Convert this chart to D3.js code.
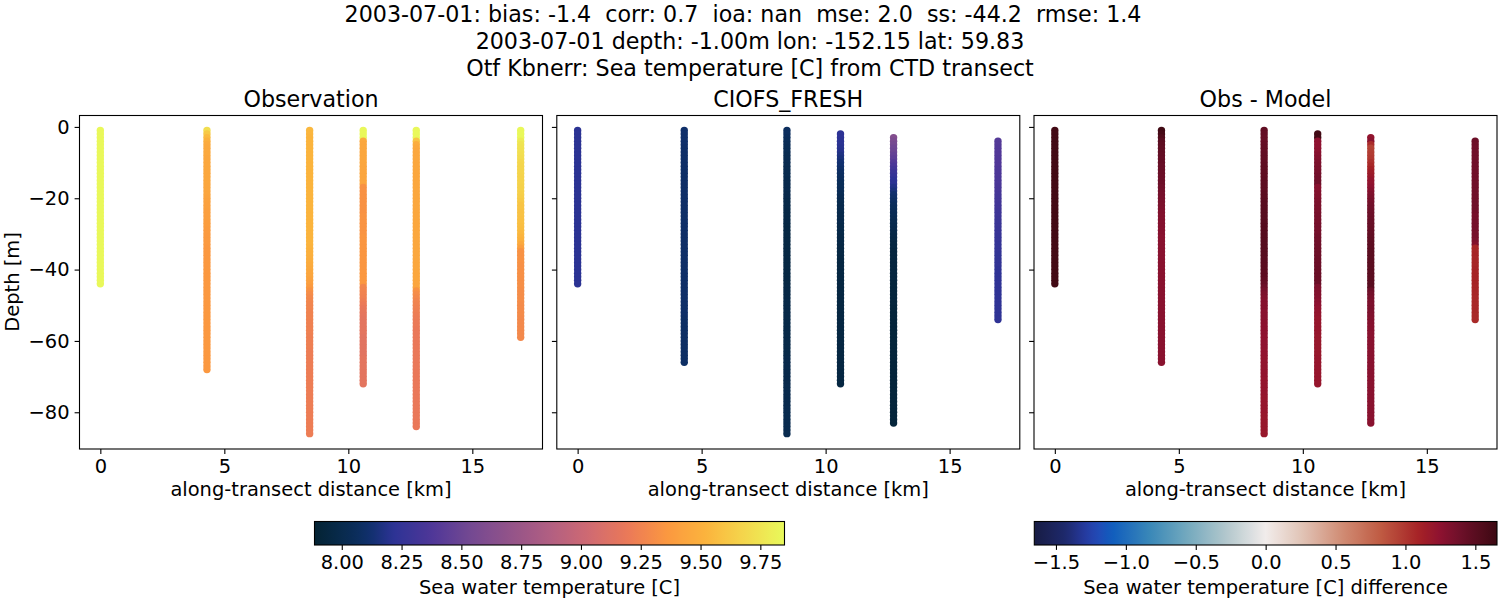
<!DOCTYPE html>
<html>
<head>
<meta charset="utf-8">
<script src="https://cdn.jsdelivr.net/npm/d3@7"></script>
<style>
body { margin:0; background:#fff; }
text { font-family:"DejaVu Sans"; fill:#000; }
</style>
</head>
<body>
<div id="chart"></div>
<script>
// distance of every cast along the transect [km]
let castDistance = [0, 4.3, 8.44, 10.6, 12.74, 16.95];
// first depth of every cast [m], then one value per metre going down
let obsStart = [1, 1, 1, 1, 1, 1];
let modelStart = [1, 1, 1, 2, 3, 4];

let obsTemp = [
 [9.84,9.84,9.84,9.84,9.84,9.84,9.84,9.84,9.84,9.84,
  9.84,9.84,9.84,9.84,9.84,9.84,9.84,9.84,9.84,9.84,
  9.84,9.84,9.84,9.84,9.84,9.84,9.84,9.84,9.84,9.84,
  9.84,9.84,9.84,9.84,9.84,9.84,9.84,9.84,9.84,9.84,
  9.84,9.84,9.84,9.84],
 [9.72,9.62,9.55,9.50,9.47,9.46,9.46,9.46,9.45,9.45,
  9.45,9.45,9.45,9.45,9.45,9.45,9.44,9.44,9.44,9.43,
  9.42,9.41,9.41,9.40,9.40,9.40,9.39,9.39,9.38,9.38,
  9.37,9.37,9.37,9.36,9.36,9.36,9.36,9.36,9.36,9.36,
  9.36,9.36,9.36,9.36,9.36,9.36,9.36,9.36,9.36,9.36,
  9.36,9.36,9.36,9.36,9.36,9.36,9.36,9.36,9.36,9.36,
  9.36,9.36,9.36,9.36,9.36,9.36,9.36,9.36],
 [9.54,9.53,9.52,9.52,9.52,9.52,9.52,9.52,9.52,9.52,
  9.52,9.52,9.52,9.52,9.52,9.52,9.52,9.52,9.52,9.52,
  9.52,9.52,9.52,9.52,9.52,9.52,9.52,9.52,9.52,9.52,
  9.52,9.52,9.52,9.51,9.50,9.50,9.49,9.48,9.47,9.46,
  9.45,9.44,9.42,9.40,9.37,9.33,9.30,9.28,9.27,9.26,
  9.26,9.25,9.25,9.25,9.24,9.24,9.24,9.24,9.23,9.23,
  9.23,9.23,9.22,9.22,9.22,9.22,9.22,9.22,9.22,9.22,
  9.22,9.22,9.22,9.22,9.22,9.22,9.22,9.22,9.22,9.22,
  9.22,9.22,9.22,9.22,9.22,9.22],
 [9.84,9.84,9.84,9.46,9.45,9.45,9.45,9.45,9.45,9.45,
  9.44,9.44,9.44,9.44,9.44,9.44,9.33,9.33,9.33,9.33,
  9.33,9.33,9.33,9.33,9.34,9.34,9.34,9.34,9.34,9.34,
  9.35,9.35,9.35,9.35,9.35,9.35,9.35,9.35,9.35,9.35,
  9.36,9.36,9.36,9.36,9.27,9.26,9.25,9.24,9.22,9.20,
  9.18,9.17,9.16,9.15,9.15,9.15,9.15,9.15,9.14,9.14,
  9.14,9.14,9.14,9.14,9.15,9.15,9.15,9.15,9.15,9.15,
  9.15,9.15],
 [9.84,9.84,9.84,9.60,9.48,9.46,9.45,9.45,9.45,9.45,
  9.45,9.45,9.45,9.45,9.45,9.45,9.45,9.45,9.45,9.45,
  9.45,9.45,9.45,9.45,9.45,9.45,9.45,9.45,9.45,9.45,
  9.45,9.45,9.45,9.45,9.45,9.45,9.45,9.45,9.45,9.45,
  9.45,9.45,9.45,9.44,9.44,9.33,9.30,9.28,9.26,9.25,
  9.24,9.23,9.22,9.21,9.20,9.20,9.19,9.19,9.19,9.19,
  9.19,9.19,9.19,9.19,9.19,9.19,9.19,9.19,9.19,9.19,
  9.19,9.19,9.19,9.19,9.19,9.19,9.19,9.19,9.19,9.19,
  9.19,9.19,9.19,9.19],
 [9.84,9.84,9.84,9.78,9.75,9.74,9.73,9.72,9.71,9.69,
  9.68,9.68,9.68,9.67,9.67,9.67,9.66,9.66,9.65,9.64,
  9.62,9.60,9.60,9.59,9.59,9.58,9.58,9.57,9.56,9.54,
  9.52,9.50,9.46,9.40,9.33,9.33,9.33,9.33,9.32,9.32,
  9.32,9.32,9.31,9.31,9.31,9.30,9.30,9.30,9.30,9.29,
  9.29,9.29,9.29,9.28,9.28,9.28,9.28,9.28,9.28]
];

let modelTemp = [
 [8.21,8.21,8.21,8.21,8.21,8.21,8.21,8.21,8.21,8.21,
  8.21,8.21,8.21,8.21,8.21,8.21,8.21,8.21,8.21,8.21,
  8.21,8.21,8.21,8.21,8.21,8.21,8.21,8.21,8.21,8.21,
  8.21,8.21,8.21,8.21,8.21,8.21,8.21,8.21,8.21,8.21,
  8.21,8.21,8.21,8.21],
 [8.11,8.11,8.11,8.11,8.11,8.10,8.10,8.10,8.10,8.10,
  8.10,8.10,8.10,8.10,8.10,8.10,8.10,8.10,8.10,8.10,
  8.10,8.10,8.10,8.10,8.10,8.10,8.10,8.10,8.10,8.10,
  8.10,8.10,8.10,8.10,8.10,8.10,8.10,8.10,8.10,8.10,
  8.10,8.10,8.10,8.10,8.10,8.10,8.10,8.10,8.10,8.10,
  8.10,8.10,8.10,8.09,8.09,8.09,8.09,8.09,8.09,8.09,
  8.09,8.09,8.09,8.09,8.09,8.09],
 [8.07,8.07,8.06,8.05,8.04,8.03,8.03,8.02,8.02,8.02,
  8.01,8.01,8.01,8.01,8.00,8.00,8.00,8.00,7.99,7.99,
  7.98,7.98,7.98,7.97,7.97,7.97,7.97,7.96,7.96,7.96,
  7.96,7.96,7.96,7.96,7.96,7.96,7.96,7.96,7.96,7.96,
  7.96,7.96,7.96,7.96,7.97,7.97,7.97,7.97,7.98,7.98,
  7.98,7.98,7.98,7.98,7.98,7.98,7.98,7.98,7.98,7.98,
  7.98,7.98,7.98,7.98,7.99,7.99,7.99,7.99,7.99,7.99,
  7.99,7.99,8.00,8.00,8.00,8.00,8.00,8.00,8.01,8.01,
  8.01,8.01,8.01,8.01,8.01,8.01],
 [8.22,8.22,8.21,8.21,8.20,8.19,8.17,8.15,8.13,8.12,
  8.10,8.08,8.07,8.06,8.05,8.05,8.04,8.03,8.02,8.01,
  8.00,8.00,8.00,7.99,7.99,7.99,7.98,7.98,7.98,7.97,
  7.97,7.97,7.96,7.96,7.96,7.95,7.95,7.95,7.95,7.95,
  7.95,7.95,7.95,7.95,7.95,7.95,7.95,7.95,7.95,7.95,
  7.95,7.95,7.95,7.95,7.95,7.95,7.95,7.95,7.95,7.95,
  7.95,7.95,7.95,7.95,7.95,7.95,7.95,7.95,7.95,7.95,
  7.95],
 [8.62,8.58,8.55,8.52,8.50,8.47,8.44,8.40,8.36,8.32,
  8.28,8.25,8.22,8.21,8.18,8.15,8.12,8.10,8.08,8.06,
  8.05,8.04,8.03,8.02,8.01,8.00,7.99,7.98,7.97,7.96,
  7.95,7.95,7.94,7.94,7.94,7.94,7.94,7.94,7.94,7.94,
  7.94,7.93,7.93,7.93,7.93,7.93,7.93,7.93,7.92,7.92,
  7.92,7.92,7.92,7.92,7.92,7.92,7.92,7.92,7.92,7.92,
  7.92,7.92,7.92,7.92,7.92,7.92,7.92,7.92,7.92,7.92,
  7.92,7.92,7.92,7.92,7.92,7.92,7.92,7.92,7.92,7.92,
  7.92],
 [8.40,8.40,8.39,8.39,8.39,8.38,8.38,8.38,8.37,8.37,
  8.37,8.36,8.36,8.35,8.34,8.33,8.32,8.32,8.31,8.31,
  8.30,8.30,8.29,8.28,8.28,8.27,8.27,8.26,8.26,8.25,
  8.25,8.25,8.24,8.24,8.24,8.24,8.23,8.23,8.23,8.23,
  8.23,8.23,8.23,8.23,8.23,8.23,8.23,8.23,8.23,8.23,
  8.23]
];

let diffTemp = [
 [1.62,1.62,1.62,1.62,1.62,1.62,1.62,1.62,1.62,1.62,
  1.62,1.62,1.62,1.62,1.62,1.62,1.62,1.62,1.62,1.62,
  1.62,1.62,1.62,1.62,1.62,1.62,1.62,1.62,1.62,1.62,
  1.62,1.62,1.62,1.62,1.62,1.62,1.62,1.62,1.62,1.62,
  1.62,1.62,1.62,1.62],
 [1.63,1.60,1.55,1.50,1.48,1.47,1.46,1.45,1.44,1.44,
  1.42,1.42,1.41,1.40,1.40,1.40,1.38,1.37,1.36,1.35,
  1.34,1.33,1.32,1.31,1.30,1.30,1.29,1.29,1.28,1.28,
  1.27,1.27,1.27,1.27,1.27,1.27,1.27,1.27,1.27,1.27,
  1.27,1.27,1.27,1.27,1.27,1.27,1.27,1.27,1.27,1.27,
  1.27,1.27,1.27,1.27,1.27,1.27,1.27,1.27,1.27,1.27,
  1.27,1.27,1.27,1.27,1.27,1.27],
 [1.46,1.44,1.43,1.43,1.44,1.45,1.45,1.46,1.46,1.46,
  1.47,1.47,1.47,1.47,1.48,1.48,1.48,1.48,1.49,1.49,
  1.50,1.50,1.50,1.51,1.51,1.51,1.51,1.52,1.52,1.52,
  1.52,1.52,1.52,1.52,1.51,1.51,1.50,1.50,1.49,1.49,
  1.48,1.48,1.46,1.44,1.40,1.36,1.33,1.31,1.29,1.28,
  1.28,1.27,1.27,1.27,1.26,1.25,1.25,1.25,1.24,1.24,
  1.24,1.24,1.23,1.23,1.22,1.22,1.22,1.22,1.22,1.22,
  1.21,1.21,1.21,1.21,1.21,1.20,1.20,1.20,1.20,1.20,
  1.19,1.19,1.19,1.19,1.19,1.19],
 [1.62,1.62,1.25,1.24,1.25,1.26,1.28,1.30,1.32,1.33,
  1.34,1.36,1.37,1.38,1.39,1.28,1.29,1.30,1.31,1.32,
  1.33,1.33,1.34,1.35,1.35,1.35,1.36,1.36,1.36,1.38,
  1.38,1.38,1.39,1.39,1.39,1.40,1.40,1.40,1.41,1.41,
  1.41,1.41,1.41,1.32,1.31,1.30,1.29,1.27,1.25,1.23,
  1.22,1.21,1.20,1.20,1.20,1.20,1.20,1.19,1.19,1.19,
  1.19,1.19,1.19,1.20,1.20,1.20,1.20,1.20,1.20,1.20,
  1.20],
 [1.22,1.26,1.05,0.94,0.96,0.97,0.99,1.03,1.07,1.11,
  1.15,1.18,1.21,1.22,1.25,1.28,1.31,1.33,1.35,1.37,
  1.38,1.39,1.40,1.41,1.42,1.43,1.44,1.45,1.46,1.47,
  1.48,1.48,1.49,1.49,1.49,1.49,1.49,1.49,1.49,1.49,
  1.49,1.50,1.50,1.40,1.37,1.35,1.33,1.32,1.33,1.32,
  1.31,1.30,1.29,1.28,1.28,1.27,1.27,1.27,1.27,1.27,
  1.27,1.27,1.27,1.27,1.27,1.27,1.27,1.27,1.27,1.27,
  1.27,1.27,1.27,1.27,1.27,1.27,1.27,1.27,1.27,1.27,
  1.27],
 [1.40,1.39,1.38,1.38,1.38,1.38,1.38,1.38,1.38,1.38,
  1.38,1.38,1.38,1.38,1.38,1.38,1.38,1.38,1.38,1.38,
  1.37,1.35,1.36,1.36,1.36,1.36,1.35,1.35,1.33,1.30,
  1.08,1.08,1.09,1.08,1.08,1.08,1.09,1.09,1.09,1.09,
  1.09,1.08,1.08,1.08,1.07,1.07,1.07,1.07,1.07,1.06,
  1.06]
];

let xTicks = [0, 5, 10, 15];
let yTicks = [0, -20, -40, -60, -80];
let tempTicks = [8.00, 8.25, 8.50, 8.75, 9.00, 9.25, 9.50, 9.75];
let diffTicks = [-1.5, -1.0, -0.5, 0.0, 0.5, 1.0, 1.5];
let thermalStops = [0, .083, .12, .167, .25, .333, .417, .5, .583, .667, .75, .833, .917, 1];
let thermalColors = ["#042333","#0a2d58","#11306e","#2c3395","#4f3798","#744992","#935389","#b15f82","#cf6a72","#eb7958","#fb9840","#fbb43d","#f4d74d","#e8fa5b"];
let balanceStops = [0, .07, .105, .135, .167, .25, .333, .417, .5, .583, .667, .75, .833, .875, .917, 1];
let balanceColors = ["#181c43","#1e2a6e","#25379a","#2449b6","#0f5cbd","#3a88b8","#75aabe","#b4c8cd","#f1eceb","#e0c1b3","#d08b73","#bf5a42","#a52125","#8f1230","#70102a","#3c0912"];
let titleLines = [
  "2003-07-01: bias: -1.4  corr: 0.7  ioa: nan  mse: 2.0  ss: -44.2  rmse: 1.4",
  "2003-07-01 depth: -1.00m lon: -152.15 lat: 59.83",
  "Otf Kbnerr: Sea temperature [C] from CTD transect"
];
let titleCenters = [743, 750, 750];

let tempMin = 7.886, tempMax = 9.851;
let diffMax = 1.655;
let panelTop = 115.5, panelBottom = 449;
let panelWidth = 463;
let pointRadius = 3.7;

function stopsScale(stops, colors, lo, hi)
{
	return d3.scaleLinear()
		.domain(stops.map(s=>lo+s*(hi-lo)))
		.range(colors)
		.interpolate(d3.interpolateRgb);
}
let tempColor = stopsScale(thermalStops, thermalColors, tempMin, tempMax);
let diffColor = stopsScale(balanceStops, balanceColors, -diffMax, diffMax);

let svg = d3.select("#chart").append("svg")
	.attr("width", 1500)
	.attr("height", 600);

//suptitle
svg.selectAll(".suptitle")
	.data(titleLines)
	.enter().append("text")
	.attr("class", "suptitle")
	.attr("x", (d,i)=>titleCenters[i])
	.attr("y", (d,i)=>22.4+i*26.6)
	.attr("text-anchor", "middle")
	.attr("xml:space", "preserve")
	.style("white-space", "pre")
	.style("font-size", "22.2px")
	.text(d=>d);

let yScale = d3.scaleLinear().domain([3.2, -90.3]).range([panelTop, panelBottom]);

function drawPanel(left, title, values, starts, color, showY)
{
	let xScale = d3.scaleLinear().domain([-0.84, 17.83]).range([left, left+panelWidth]);
	let g = svg.append("g");

	//scatter points, deeper ones drawn over shallower ones
	values.forEach(function(cast, c)
	{
		g.append("g").selectAll("circle")
			.data(cast)
			.enter().append("circle")
			.attr("cx", xScale(castDistance[c]))
			.attr("cy", (d,i)=>yScale(-(starts[c]+i)))
			.attr("r", pointRadius)
			.attr("fill", d=>color(d));
	});

	let xAxis = d3.axisBottom(xScale).tickValues(xTicks).tickFormat(d3.format("d")).tickSize(4.9).tickPadding(5);
	let yAxis = d3.axisLeft(yScale).tickValues(yTicks).tickSize(4.9).tickPadding(5);
	if(!showY) yAxis.tickFormat("");
	styleAxis(g.append("g").attr("transform", "translate(0,"+panelBottom+")").call(xAxis));
	styleAxis(g.append("g").attr("transform", "translate("+left+",0)").call(yAxis));

	g.append("rect")
		.attr("x", left).attr("y", panelTop)
		.attr("width", panelWidth).attr("height", panelBottom-panelTop)
		.attr("fill", "none").attr("stroke", "#000").attr("stroke-width", 1.1);

	g.append("text")
		.attr("x", left+panelWidth/2).attr("y", 107)
		.attr("text-anchor", "middle")
		.style("font-size", "22.2px")
		.text(title);
	g.append("text")
		.attr("x", left+panelWidth/2).attr("y", 496)
		.attr("text-anchor", "middle")
		.style("font-size", "19.44px")
		.text("along-transect distance [km]");
}

function styleAxis(axis)
{
	axis.selectAll(".domain").remove();
	axis.selectAll("line").attr("stroke", "#000").attr("stroke-width", 1.1);
	axis.selectAll("text").style("font-size", "19.44px").style("font-family", "DejaVu Sans").attr("fill", "#000");
}

drawPanel(79.5, "Observation", obsTemp, obsStart, tempColor, true);
drawPanel(556.8, "CIOFS_FRESH", modelTemp, modelStart, tempColor, false);
drawPanel(1034, "Obs - Model", diffTemp, modelStart, diffColor, false);

svg.append("text")
	.attr("transform", "translate(18.5,282) rotate(-90)")
	.attr("text-anchor", "middle")
	.style("font-size", "19.44px")
	.text("Depth [m]");

function drawColorbar(id, x0, x1, lo, hi, color, ticks, fmt, label)
{
	let scale = d3.scaleLinear().domain([lo, hi]).range([x0, x1]);
	let top = 521.5, bottom = 545;
	let grad = svg.append("defs").append("linearGradient").attr("id", id);
	grad.selectAll("stop")
		.data(d3.range(0, 1.0001, 1/64))
		.enter().append("stop")
		.attr("offset", d=>d)
		.attr("stop-color", d=>color(lo+d*(hi-lo)));
	svg.append("rect")
		.attr("x", x0).attr("y", top)
		.attr("width", x1-x0).attr("height", bottom-top)
		.attr("fill", "url(#"+id+")")
		.attr("stroke", "#000").attr("stroke-width", 1.1);
	let axis = d3.axisBottom(scale).tickValues(ticks).tickFormat(d3.format(fmt)).tickSize(4.9).tickPadding(5);
	styleAxis(svg.append("g").attr("transform", "translate(0,"+bottom+")").call(axis));
	svg.append("text")
		.attr("x", (x0+x1)/2).attr("y", 594)
		.attr("text-anchor", "middle")
		.style("font-size", "19.44px")
		.text(label);
}

drawColorbar("thermal", 314.5, 784.5, tempMin, tempMax, tempColor, tempTicks, ".2f", "Sea water temperature [C]");
drawColorbar("balance", 1034.3, 1497, -diffMax, diffMax, diffColor, diffTicks, ".1f", "Sea water temperature [C] difference");
</script>
</body>
</html>
